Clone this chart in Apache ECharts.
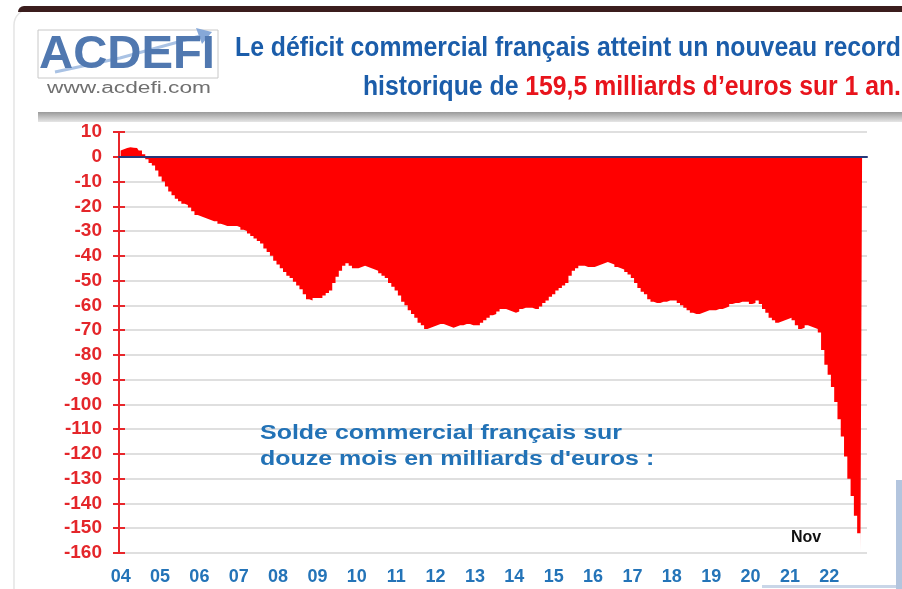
<!DOCTYPE html>
<html>
<head>
<meta charset="utf-8">
<title>Solde commercial français</title>
<script src="https://cdn.jsdelivr.net/npm/echarts@6/dist/echarts.min.js"></script>
<style>
  html, body { margin: 0; padding: 0; background: #fff; }
  #chart { width: 902px; height: 589px; }
</style>
</head>
<body>
<div id="chart"></div>
<script>
// year tick labels (x axis), one per January
const yearLabels = ['04', '05', '06', '07', '08', '09', '10', '11', '12', '13',
  '14', '15', '16', '17', '18', '19', '20', '21', '22'];

// rolling 12-month trade balance, billions of euros, month by month
const s2004 = [2.5, 3, 3.5, 3.8, 3.6, 3.5, 2.5, 1, -1, -2.5, -3.5, -5.5];
const s2005 = [-8, -10, -12, -14, -15.5, -17, -18, -19, -19.5, -20.5, -22, -23.5];
const s2006 = [-24, -24.5, -25, -25.5, -26, -26, -27, -27.5, -28, -28, -28, -28];
const s2007 = [-28.5, -29.5, -30, -31, -32, -33, -34, -35, -37, -38.5, -40, -42];
const s2008 = [-43.5, -45, -46.5, -48, -49, -50.5, -52, -53.5, -55.5, -57.5, -58, -57];
const s2009 = [-57, -57, -56, -55, -54, -51, -48.5, -46, -44, -43, -44, -45];
const s2010 = [-45, -44.5, -44, -44.5, -45, -45.5, -46, -47, -48, -49, -51, -52.5];
const s2011 = [-54, -56, -58.5, -60, -62, -63.5, -65, -67, -68, -69.5, -69, -68.5];
const s2012 = [-68, -67.5, -67.5, -68, -68.5, -69, -68.5, -68, -68, -67.5, -67.5, -68];
const s2013 = [-68, -68, -67, -66, -65, -64, -63.5, -62.5, -61.5, -61.5, -62, -62.5];
const s2014 = [-63, -62.5, -61.5, -61, -61, -61, -61.5, -61.5, -60.5, -59, -58, -56.5];
const s2015 = [-55.5, -54, -53, -52, -51, -48, -46, -45, -44, -44, -44.5, -44.5];
const s2016 = [-44.5, -44, -43.5, -43, -42.5, -43, -43.5, -44.5, -45, -45.5, -46.5, -47.5];
const s2017 = [-49, -51, -53, -54.5, -55.5, -57.5, -58.5, -59, -59, -58.5, -58.5, -58];
const s2018 = [-58, -58, -59, -60, -61, -62, -63, -63.5, -63.5, -63, -62.5, -62];
const s2019 = [-62, -62, -61.5, -61.5, -61, -60.5, -59.5, -59, -59, -58.5, -58.5, -58.5];
const s2020 = [-59.5, -59, -58, -59.5, -61.5, -63, -65, -66, -67, -66.5, -66, -65.5];
const s2021 = [-65, -66, -68, -69.5, -69, -68, -68.5, -69, -69.5, -71, -78, -84];
const s2022 = [-88, -93, -99, -106, -113, -121, -130, -137, -145, -152, -159.5]; // until Nov

const solde = [].concat(s2004, s2005, s2006, s2007, s2008, s2009, s2010, s2011,
  s2012, s2013, s2014, s2015, s2016, s2017, s2018, s2019, s2020, s2021, s2022);

const months = [];
yearLabels.forEach((y) => {
  for (let m = 1; m <= 12; m++) months.push(y + '-' + String(m).padStart(2, '0'));
});

// text measuring, used to squeeze the condensed title fonts to width
const ctx = document.createElement('canvas').getContext('2d');
function widthOf(text, font) {
  ctx.font = font;
  return ctx.measureText(text).width;
}

const titleFont = 'bold 28px "Liberation Sans Narrow", "Liberation Sans", Arial, sans-serif';
const title1 = 'Le déficit commercial français atteint un nouveau record';
const title2a = 'historique de ';
const title2b = '159,5 milliards d\u2019euros sur 1 an.';
const tScale = 666 / widthOf(title1, titleFont);
const redW = widthOf(title2b, titleFont) * tScale;

const logoFont = 'bold 46px "Liberation Sans", Arial, sans-serif';
const logoScale = 176 / widthOf('ACDEFI', logoFont);
const urlFont = '16px "Liberation Sans", Arial, sans-serif';
const urlScale = 164 / widthOf('www.acdefi.com', urlFont);

const noteFont = 'bold 20px "Liberation Sans", Arial, sans-serif';
const note1 = 'Solde commercial français sur';
const note2 = 'douze mois en milliards d\'euros :';
const noteScale = 362 / widthOf(note1, noteFont);

function txt(x, y, text, font, fill, align, sx) {
  return {
    type: 'text', x: x, y: y, scaleX: sx || 1, z: 10,
    style: {
      text: text, font: font, fill: fill,
      align: align, textAlign: align,
      verticalAlign: 'middle', textVerticalAlign: 'middle'
    }
  };
}

const chart = echarts.init(document.getElementById('chart'));

const option = {
  animation: false,
  backgroundColor: '#ffffff',
  grid: { left: 119, right: 35, top: 132, bottom: 36 },
  xAxis: [
    {
      type: 'category',
      data: months,
      boundaryGap: true,
      axisLine: { show: false, onZero: false },
      axisTick: { show: false },
      axisLabel: {
        interval: (i) => i % 12 === 0,
        formatter: (v) => v.slice(0, 2),
        color: '#2474b8',
        fontSize: 18,
        fontWeight: 'bold',
        fontFamily: 'Liberation Sans, Arial, sans-serif',
        margin: 15
      },
      splitLine: { show: false }
    },
    {
      type: 'category',
      data: months,
      position: 'bottom',
      boundaryGap: true,
      z: 5,
      axisLine: { onZero: true, onZeroAxisIndex: 0, lineStyle: { color: '#25387a', width: 2 } },
      axisTick: { interval: (i) => i % 12 === 0, length: 4, lineStyle: { color: '#5d8fd0', width: 2 } },
      axisLabel: { show: false },
      splitLine: { show: false }
    }
  ],
  yAxis: [
    {
      type: 'value',
      min: -160,
      max: 10,
      interval: 10,
      axisLine: { show: true, lineStyle: { color: '#e8262b', width: 2 } },
      axisTick: { show: true, length: 6, lineStyle: { color: '#e8262b', width: 2 } },
      axisLabel: {
        color: '#e4262a',
        fontSize: 19,
        fontWeight: 'bold',
        fontFamily: 'Liberation Sans, Arial, sans-serif',
        margin: 17
      },
      splitLine: { lineStyle: { color: '#d4d4d4', width: 1.5 } }
    },
    {
      type: 'value',
      min: -160,
      max: 10,
      interval: 10,
      position: 'left',
      axisLine: { show: false },
      axisTick: { show: true, inside: true, length: 6, lineStyle: { color: '#e8262b', width: 2 } },
      axisLabel: { show: false },
      splitLine: { show: false }
    }
  ],
  series: [
    {
      type: 'line',
      data: solde,
      xAxisIndex: 0,
      yAxisIndex: 0,
      step: 'middle',
      symbol: 'none',
      lineStyle: { opacity: 0 },
      areaStyle: { color: '#ff0000', opacity: 1 },
      z: 2
    }
  ],
  graphic: [
    // card frame and top band
    { type: 'rect', shape: { x: 14, y: 9, width: 900, height: 600, r: 16 }, style: { fill: 'none', stroke: '#e4e4e4', lineWidth: 1.5 }, z: 1 },
    { type: 'rect', shape: { x: 18, y: 6, width: 890, height: 6, r: [6, 0, 0, 0] }, style: { fill: '#3b1d1d' }, z: 1 },
    // grey band under the title
    {
      type: 'rect', shape: { x: 38, y: 112, width: 870, height: 10 }, z: 1,
      style: { fill: new echarts.graphic.LinearGradient(0, 0, 0, 1, [
        { offset: 0, color: '#9a9a9a' }, { offset: 1, color: '#e6e6e6' }]) }
    },
    // logo
    { type: 'rect', shape: { x: 38, y: 30, width: 180, height: 48 }, style: { fill: 'none', stroke: '#c8c8c8', lineWidth: 1 }, z: 2 },
    { type: 'polyline', shape: { points: [[55, 72], [120, 58], [200, 36]] }, style: { stroke: '#a9c2e4', lineWidth: 3, fill: 'none' }, z: 3 },
    { type: 'polygon', shape: { points: [[196, 28], [212, 32], [202, 44]] }, style: { fill: '#86a8d8' }, z: 3 },
    txt(39, 55, 'ACDEFI', logoFont, '#5078b0', 'left', logoScale),
    txt(47, 89, 'www.acdefi.com', urlFont, '#707070', 'left', urlScale),
    // title
    txt(901, 48, title1, titleFont, '#1b5daa', 'right', tScale),
    txt(901, 87, title2b, titleFont, '#e8141c', 'right', tScale),
    txt(901 - redW, 87, title2a, titleFont, '#1b5daa', 'right', tScale),
    // notes in the plot
    txt(260, 433, note1, noteFont, '#2272b6', 'left', noteScale),
    txt(260, 459, note2, noteFont, '#2272b6', 'left', noteScale),
    txt(791, 538, 'Nov', 'bold 16px "Liberation Sans", Arial, sans-serif', '#111111', 'left', 1),
    // bit of the next picture at the bottom right
    { type: 'rect', shape: { x: 896, y: 480, width: 6, height: 109 }, style: { fill: '#b3c5de' }, z: 1 },
    { type: 'rect', shape: { x: 762, y: 585, width: 134, height: 3 }, style: { fill: '#c9d6e8' }, z: 1 }
  ]
};

chart.setOption(option);
window.addEventListener('resize', chart.resize);
</script>
</body>
</html>
